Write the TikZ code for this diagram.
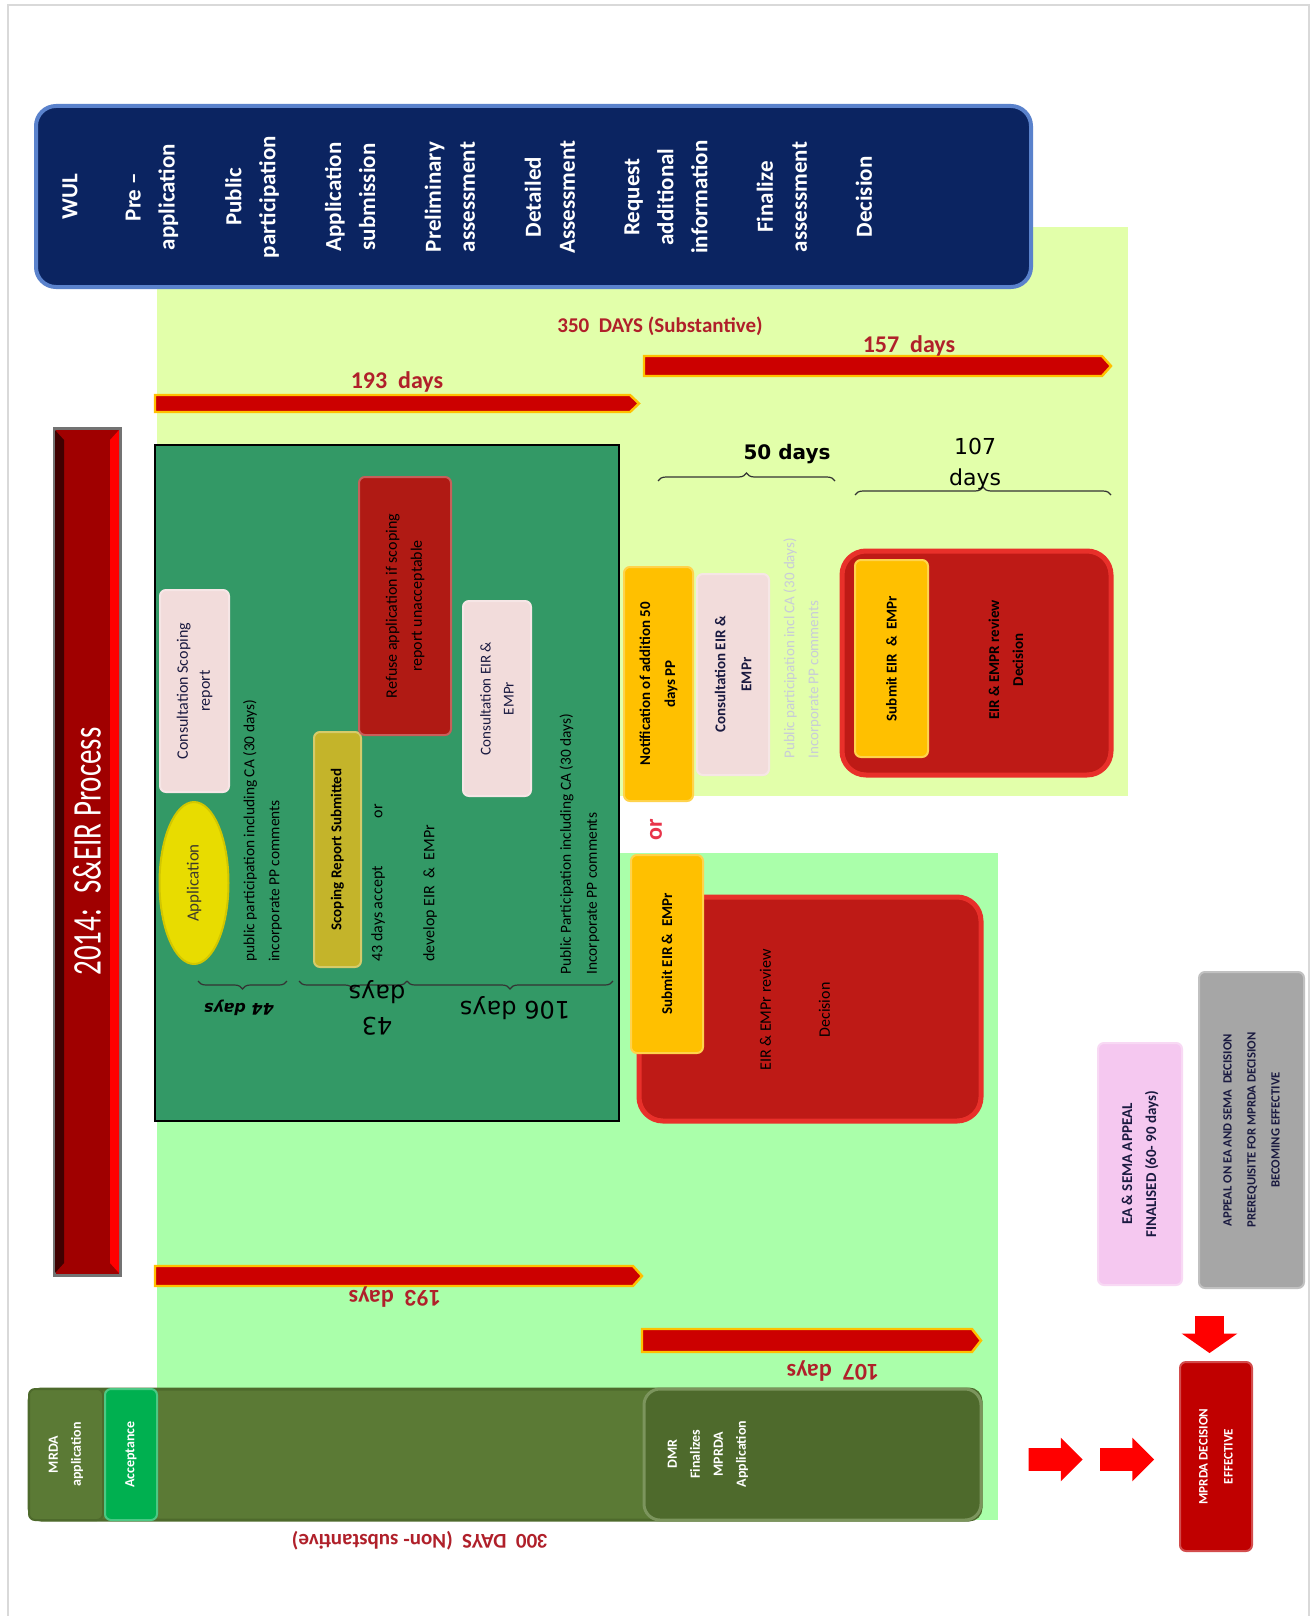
\documentclass[tikz,border=0pt]{standalone}
\usepackage{fontspec}
\usepackage{graphicx}
\setmainfont{Carlito}
\newfontfamily\widefont{DejaVu Sans}
\usetikzlibrary{shapes.geometric,shapes.arrows,decorations.pathreplacing}
\definecolor{hdrnavy}{HTML}{0B2461}
\definecolor{hdrrim}{HTML}{5A82CC}
\definecolor{limebg}{HTML}{E2FFAA}
\definecolor{mintbg}{HTML}{AAFFAA}
\definecolor{scopegreen}{HTML}{339966}
\definecolor{sidered}{HTML}{A00000}
\definecolor{barred}{HTML}{CC0000}
\definecolor{barrim}{HTML}{FFC000}
\definecolor{daysred}{HTML}{B0202A}
\definecolor{boxred}{HTML}{BE1A16}
\definecolor{boxrim}{HTML}{E8302A}
\definecolor{softpink}{HTML}{F2DCDB}
\definecolor{amber}{HTML}{FFC000}
\definecolor{olivebox}{HTML}{5B7A35}
\definecolor{olivedark}{HTML}{4E6A2C}
\definecolor{accgreen}{HTML}{00B050}
\definecolor{mustard}{HTML}{C4B42A}
\definecolor{refusered}{HTML}{B01A14}
\definecolor{lilac}{HTML}{F5C8F0}
\definecolor{greybox}{HTML}{A6A6A6}
\definecolor{inktext}{HTML}{1A1A40}
\definecolor{palegrey}{HTML}{C8CCD8}
\definecolor{orred}{HTML}{E8344A}
\definecolor{mprdared}{HTML}{C00000}

\tikzset{
  hdrtext/.style={rotate=90, align=center, text=white, font=\bfseries\fontsize{11.5}{17}\selectfont, inner sep=1pt},
  vbox/.style={rotate=90, align=center, rounded corners=3pt, fill=#1, draw=#1!70!white, line width=1pt, inner sep=2pt},
  vnote/.style={rotate=90, align=left, anchor=west, inner sep=1pt},
  bigbox/.style={rounded corners=12pt, fill=boxred, draw=boxrim, line width=2.5pt},
  daybar/.style={fill=barred, draw=barrim, line width=1.2pt},
  daylabel/.style={text=daysred, font=\bfseries\fontsize{12}{14}\selectfont},
  daybrace/.style={decorate, decoration={brace, amplitude=4pt}, draw=black!80, line width=0.6pt},
  redarrow/.style={single arrow, fill=red, inner xsep=0pt, inner ysep=5.5pt, minimum height=27pt, single arrow head extend=5.25pt},
  olivetext/.style={align=center, text=white, font=\bfseries\fontsize{7}{11.5}\selectfont},
}

\begin{document}
\begin{tikzpicture}[x=0.5pt,y=-0.5pt]
\useasboundingbox (0,0) rectangle (1312,1616);
\fill[white] (0,0) rectangle (1312,1616);
\draw[black!15, line width=1pt] (8,1616) -- (8,5) -- (1309,5) -- (1309,1616);

% background bands
\fill[limebg] (157,227) rectangle (1128,796);
\fill[mintbg] (157,853) rectangle (998,1520);

% header row
\node[rounded corners=10pt, fill=hdrnavy, draw=hdrrim, line width=2pt, minimum width=497.5pt, minimum height=90.5pt] (wulbar) at (533.5,196.5) {};
\foreach \xc/\txt [count=\i] in {70/WUL, 152/{Pre --\\application}, 252/{Public\\participation}, 350/{Application\\submission}, 450/{Preliminary\\assessment}, 550/{Detailed\\Assessment}, 666/{Request\\additional\\information}, 782/{Finalize\\assessment}, 864/Decision}
  \node[hdrtext] (hdr\i) at (\xc,197) {\txt};

% side title bar
\node[rotate=90, fill=sidered, draw=black!55, line width=1.5pt, minimum width=423.5pt, minimum height=33pt] (sidebar) at (87,851.5) {};
\fill[sidered!40!black] (55,430) -- (64,440) -- (64,1263) -- (55,1273) -- cycle;
\fill[red] (119,430) -- (110,440) -- (110,1263) -- (119,1273) -- cycle;
\node[rotate=90, text=white, font=\fontsize{14.5}{16}\selectfont] (sidetitle) at (sidebar.center) {\scalebox{1}[1.4]{2014:~ S\&EIR Process}};

% day bars
\foreach \xa/\ya/\xb/\yb in {155/395/639/412, 644/356/1111/376, 155/1266/642/1286, 642/1329/981/1352}
  \draw[daybar] (\xa,\ya) -- (\xb-9,\ya) -- (\xb,{(\ya+\yb)/2}) -- (\xb-9,\yb) -- (\xa,\yb) -- cycle;
\node[daylabel, font=\bfseries\fontsize{10.5}{12}\selectfont] (subst) at (660,326) {350~ DAYS (Substantive)};
\node[daylabel] (lbl157) at (909,346) {157~ days};
\node[daylabel] (lbl193a) at (397,382) {193~ days};
\node[daylabel, rotate=180] (lbl193b) at (395,1297) {193~ days};
\node[daylabel, rotate=180] (lbl107) at (833,1371) {107~ days};
\node[daylabel, rotate=180, font=\bfseries\fontsize{10.5}{12}\selectfont] (nonsubst) at (420,1541) {300~ DAYS~ (Non- substantive)};

% scoping phase
\draw[black, fill=scopegreen, line width=0.8pt] (155,445) rectangle (619,1121);
\node[ellipse, rotate=90, fill=yellow!80!olive, draw=yellow!60!olive, line width=1pt, minimum width=81pt, minimum height=34.5pt, inner sep=0pt, text=black!75!olive, font=\fontsize{8.5}{10}\selectfont] (appl) at (194,883) {Application};
\node[vbox=softpink, minimum width=101pt, minimum height=34.5pt, text=inktext, font=\fontsize{8}{11}\selectfont] (conscoping) at (194.5,691) {Consultation Scoping\\report};
\node[vnote, font=\fontsize{7.7}{12.5}\selectfont] (ppnote1) at (262.5,964) {public participation including CA (30 days)\\incorporate PP comments};
\node[vbox=mustard, minimum width=117.5pt, minimum height=23.5pt, font=\bfseries\fontsize{7.5}{10}\selectfont] (scopesub) at (337.5,849.5) {Scoping Report Submitted};
\node[vbox=refusered, minimum width=129pt, minimum height=46pt, font=\fontsize{8}{12.5}\selectfont] (refuse) at (405,606) {Refuse application if scoping\\report unacceptable};
\node[vnote, font=\fontsize{8}{10}\selectfont] (acceptnote) at (378,964) {43 days accept\hspace{24pt}or};
\node[vnote, font=\fontsize{8}{10}\selectfont] (devnote) at (430,964) {develop EIR~ \&~ EMPr};
\node[vbox=softpink, minimum width=97.5pt, minimum height=34pt, text=inktext, font=\fontsize{7.5}{11.5}\selectfont] (conseir) at (497,698.5) {Consultation EIR \&\\EMPr};
\node[vnote, font=\fontsize{7.7}{13}\selectfont] (ppnote2) at (579.5,977) {Public Participation including CA (30 days)\\Incorporate PP comments};

\draw[daybrace] (287,981) -- (198,981);
\draw[daybrace] (407,981) -- (299,981);
\draw[daybrace] (613,981) -- (407,981);
\node[rotate=180, font=\widefont\bfseries\itshape\fontsize{8}{10}\selectfont] (d44) at (239,1008) {44 days};
\node[rotate=180, align=center, font=\widefont\fontsize{12}{16}\selectfont] (d43) at (377,1008) {43\\days};
\node[rotate=180, font=\widefont\fontsize{12}{15}\selectfont] (d106) at (515,1008) {106 days};

% additional participation branch
\node[vbox=amber, minimum width=117pt, minimum height=34.5pt, font=\bfseries\fontsize{7.5}{12.4}\selectfont] (notif) at (658.5,684) {Notification of addition 50\\days PP};
\node[vbox=softpink, minimum width=100.5pt, minimum height=36pt, text=inktext, font=\bfseries\fontsize{7.5}{13}\selectfont] (conseir2) at (733,674.5) {Consultation EIR \&\\EMPr};
\node[vnote, text=palegrey, font=\fontsize{7.5}{12}\selectfont] (ppnote3) at (802,761) {Public participation incl CA (30 days)\\Incorporate PP comments};
\draw[daybrace] (658,481) -- (835,481);
\draw[daybrace] (855,495) -- (1111,495);
\node[font=\widefont\bfseries\fontsize{10}{12}\selectfont] (d50) at (787,454) {50 days};
\node[align=center, font=\widefont\fontsize{11}{15.5}\selectfont] (d107) at (975,464) {107\\days};
\node[bigbox, minimum width=134.5pt, minimum height=112pt] (review1) at (976.5,663) {};
\node[vbox=amber, minimum width=98.5pt, minimum height=36.5pt, font=\bfseries\fontsize{7.5}{10}\selectfont] (submit1) at (891.5,658.5) {Submit EIR~ \&~ EMPr};
\node[rotate=90, align=center, font=\bfseries\fontsize{7.5}{12}\selectfont] (review1txt) at (1006,660) {EIR \& EMPR review\\Decision};

\node[rotate=90, text=orred, font=\bfseries\fontsize{12}{14}\selectfont] (ornote) at (656,830) {or};

% direct branch
\node[bigbox, minimum width=171pt, minimum height=112pt] (review2) at (810,1009) {};
\node[vbox=amber, minimum width=99pt, minimum height=36pt, font=\bfseries\fontsize{7.5}{10}\selectfont] (submit2) at (667,954) {Submit EIR \&~ EMPr};
\node[rotate=90, align=center, font=\fontsize{8}{29.5}\selectfont] (review2txt) at (795,1010) {EIR \& EMPr review\\Decision};

% MPRDA track
\node[rounded corners=6pt, fill=olivebox, draw=olivedark, line width=1.5pt, minimum width=476pt, minimum height=65.5pt] (oliveband) at (505,1454.5) {};
\node[vbox=olivebox, draw=olivedark, minimum width=65.5pt, minimum height=37pt, olivetext] (mrda) at (66,1454.5) {MRDA\\application};
\node[vbox=accgreen, minimum width=65.5pt, minimum height=26pt, olivetext] (accept) at (131,1454.5) {Acceptance};
\node[rounded corners=8pt, fill=olivedark, draw=olivebox!80!white, line width=1.5pt, minimum width=168.5pt, minimum height=65.5pt] (dmrbox) at (812.5,1454.5) {};
\node[rotate=90, olivetext] (dmrtxt) at (708,1454) {DMR\\Finalizes\\MPRDA\\Application};

% appeal and decision
\node[redarrow] (arr1) at (1050,1459.5) {};
\node[redarrow] (arr2) at (1121.5,1459.5) {};
\node[single arrow, rotate=-90, fill=red, inner xsep=0pt, inner ysep=7pt, minimum height=18.5pt, single arrow head extend=6.75pt, single arrow tip angle=110] (arrdown) at (1209.5,1329.5) {};
\node[vbox=mprdared, minimum width=94.5pt, minimum height=36pt, text=white, font=\bfseries\fontsize{6.5}{12.5}\selectfont] (mprdaeff) at (1216,1456.5) {MPRDA DECISION\\EFFECTIVE};
\node[vbox=lilac, minimum width=121pt, minimum height=42pt, text=inktext, font=\bfseries\fontsize{7.5}{12}\selectfont] (appealfin) at (1140,1164) {EA \& SEMA APPEAL\\FINALISED (60- 90 days)};
\node[vbox=greybox, minimum width=158pt, minimum height=52.5pt, text=inktext, font=\bfseries\fontsize{6.3}{12}\selectfont] (appealgrey) at (1251.5,1130) {APPEAL ON EA AND SEMA~ DECISION\\PREREQUISITE FOR MPRDA DECISION\\BECOMING EFFECTIVE};
\end{tikzpicture}
\end{document}
